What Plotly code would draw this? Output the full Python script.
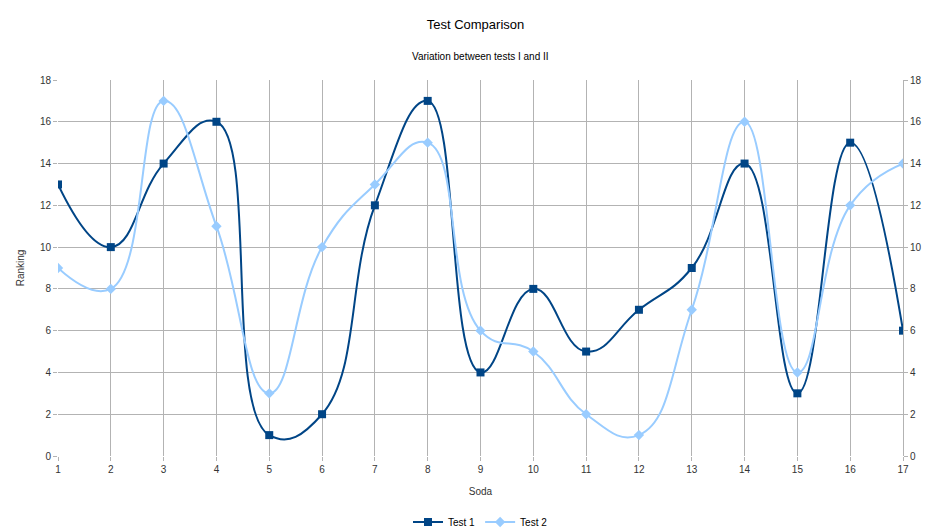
import plotly.graph_objects as go

# sodas 1..17
soda = list(range(1, 18))
test1 = [13, 10, 14, 16, 1, 2, 12, 17, 4, 8, 5, 7, 9, 14, 3, 15, 6]
test2 = [9, 8, 17, 11, 3, 10, 13, 15, 6, 5, 2, 1, 7, 16, 4, 12, 14]

dark = "#004586"
light = "#99ccff"
grid = "#b3b3b3"

fig = go.Figure()
fig.add_trace(go.Scatter(x=soda, y=test1, name="Test 1", mode="lines+markers",
                         line=dict(color=dark, width=2, shape="spline", smoothing=1.3),
                         marker=dict(symbol="square", size=8, color=dark)))
fig.add_trace(go.Scatter(x=soda, y=test2, name="Test 2", mode="lines+markers",
                         line=dict(color=light, width=2, shape="spline", smoothing=1.3),
                         marker=dict(symbol="diamond", size=8, color=light)))
# invisible trace so the right axis gets drawn
fig.add_trace(go.Scatter(x=soda, y=test1, yaxis="y2", showlegend=False,
                         mode="markers", marker=dict(opacity=0), hoverinfo="skip"))

# page body adds an 8px margin, so the figure is 8px smaller and margins shifted
fig.update_layout(
    width=935, height=522,
    margin=dict(l=50, r=40, t=72, b=74, autoexpand=False),
    paper_bgcolor="white", plot_bgcolor="white",
    font=dict(family="Liberation Sans", size=10, color="#333333"),
    title=dict(text="Test Comparison", x=0.5, xanchor="center", y=1 - 16 / 522,
               yanchor="middle", font=dict(size=13, color="black")),
    annotations=[dict(text="Variation between tests I and II", xref="paper", yref="paper",
                      x=0.5, y=1, yanchor="middle", yshift=24, showarrow=False,
                      font=dict(size=10, color="black"))],
    xaxis=dict(range=[1, 17], tickvals=soda, showgrid=True, gridcolor=grid, zeroline=False,
               showline=False, ticks="outside", ticklen=4, tickcolor=grid, automargin=False,
               title=dict(text="Soda", standoff=13, font=dict(size=10))),
    yaxis=dict(range=[0, 18], dtick=2, showgrid=True, gridcolor=grid, zeroline=False,
               ticks="outside", ticklen=4, tickcolor=grid, automargin=False,
               title=dict(text="Ranking", standoff=13, font=dict(size=10))),
    yaxis2=dict(range=[0, 18], dtick=2, overlaying="y", side="right", showgrid=False,
                zeroline=False, showline=True, linecolor=grid, ticks="outside",
                ticklen=4, tickcolor=grid, automargin=False),
    legend=dict(orientation="h", x=0.5, xanchor="center", y=-66 / 376, yanchor="middle",
                font=dict(size=10, color="black")),
)

fig.write_html("out.html")
